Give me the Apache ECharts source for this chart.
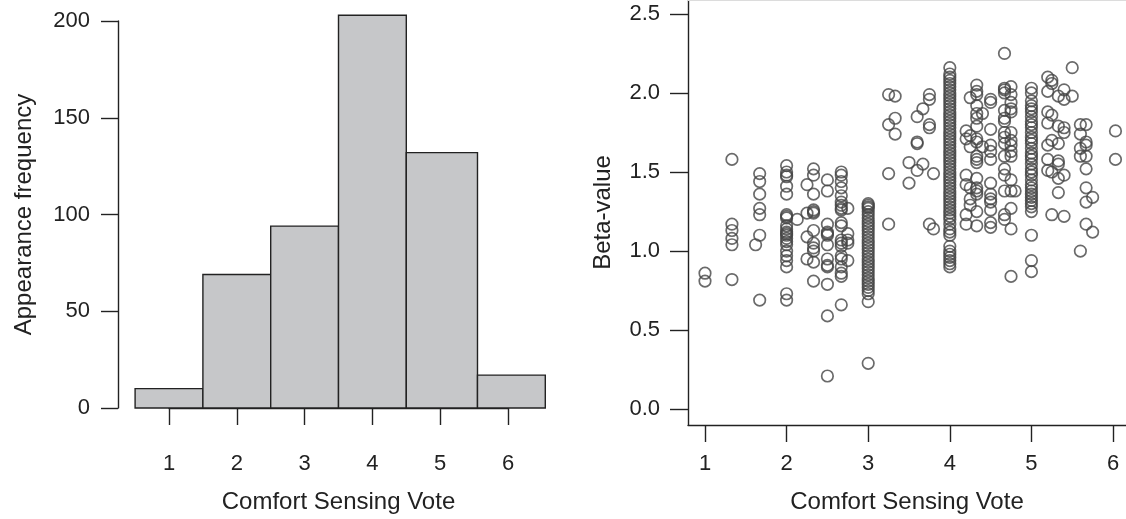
<!DOCTYPE html>
<html>
<head>
<meta charset="utf-8">
<title>Comfort Sensing Vote</title>
<script src="https://cdn.jsdelivr.net/npm/echarts@6/dist/echarts.min.js"></script>
<style>
  html, body { margin: 0; padding: 0; background: #ffffff; }
  #chart { width: 1126px; height: 519px; }
</style>
</head>
<body>
<div id="chart"></div>
<script>
// Histogram: bin edges on the vote scale and how many votes fall in each bin
const binEdges = [0.5, 1.5, 2.5, 3.5, 4.5, 5.55, 6.55];
const binCounts = [10, 69, 94, 203, 132, 17];

// Tick labels
const voteTicks = [1, 2, 3, 4, 5, 6];
const freqTicks = [0, 50, 100, 150, 200];
const betaTicks = [0.0, 0.5, 1.0, 1.5, 2.0, 2.5];

// Beta-value observations, grouped by (mean) comfort sensing vote
const betaColumns = [
  [1.00, [0.86, 0.81]],
  [1.33, [1.58, 1.17, 1.13, 1.08, 1.04, 0.82]],
  [1.62, [1.04]],
  [1.67, [1.49, 1.44, 1.36, 1.27, 1.23, 1.10, 0.69]],
  [2.00, [1.54, 1.50, 1.48, 1.47, 1.41, 1.36, 1.23, 1.22, 1.21, 1.16, 1.14, 1.12, 1.11, 1.10, 1.08, 1.06, 1.04, 1.00, 0.97, 0.94, 0.90, 0.73, 0.69]],
  [2.13, [1.20]],
  [2.25, [1.42, 1.24, 1.09, 0.95]],
  [2.33, [1.52, 1.48, 1.36, 1.26, 1.25, 1.24, 1.13, 1.05, 1.02, 1.00, 0.93, 0.81]],
  [2.50, [1.45, 1.38, 1.17, 1.12, 1.11, 1.10, 1.04, 0.95, 0.91, 0.90, 0.79, 0.59, 0.21]],
  [2.67, [1.50, 1.48, 1.44, 1.40, 1.35, 1.31, 1.29, 1.27, 1.26, 1.18, 1.16, 1.07, 1.05, 1.03, 0.97, 0.95, 0.90, 0.86, 0.84, 0.66]],
  [2.75, [1.27, 1.11, 1.07, 1.05, 0.94]],
  [3.00, [1.30, 1.29, 1.28, 1.27, 1.25, 1.23, 1.21, 1.19, 1.17, 1.15, 1.13, 1.11, 1.09, 1.07, 1.05, 1.03, 1.01, 0.99, 0.97, 0.95, 0.93, 0.91, 0.89, 0.87, 0.85, 0.83, 0.81, 0.79, 0.77, 0.75, 0.73, 0.68, 0.29]],
  [3.25, [1.99, 1.80, 1.49, 1.17]],
  [3.33, [1.98, 1.84, 1.74]],
  [3.50, [1.56, 1.43]],
  [3.60, [1.85, 1.69, 1.68, 1.51]],
  [3.67, [1.90, 1.55]],
  [3.75, [1.99, 1.96, 1.80, 1.78, 1.17]],
  [3.80, [1.49, 1.14]],
  [4.00, [2.16, 2.12, 2.10, 2.08, 2.06, 2.04, 2.02, 2.00, 1.98, 1.96, 1.94, 1.92, 1.90, 1.88, 1.86, 1.84, 1.82, 1.80, 1.78, 1.76, 1.74, 1.72, 1.70, 1.68, 1.66, 1.64, 1.62, 1.60, 1.58, 1.56, 1.54, 1.52, 1.50, 1.48, 1.46, 1.44, 1.42, 1.40, 1.38, 1.36, 1.34, 1.32, 1.30, 1.28, 1.26, 1.24, 1.22, 1.20, 1.17, 1.14, 1.12, 1.10, 1.03, 1.00, 0.98, 0.96, 0.94, 0.92, 0.90]],
  [4.20, [1.76, 1.71, 1.48, 1.42, 1.23, 1.17]],
  [4.25, [1.97, 1.73, 1.66, 1.40, 1.33, 1.29]],
  [4.33, [2.05, 2.01, 1.99, 1.92, 1.87, 1.84, 1.79, 1.71, 1.69, 1.60, 1.58, 1.56, 1.46, 1.40, 1.38, 1.36, 1.25, 1.16]],
  [4.40, [1.87, 1.66]],
  [4.50, [1.96, 1.94, 1.77, 1.67, 1.63, 1.58, 1.43, 1.36, 1.33, 1.31, 1.26, 1.18, 1.15]],
  [4.67, [2.25, 2.03, 2.02, 2.00, 1.89, 1.84, 1.82, 1.75, 1.72, 1.68, 1.60, 1.52, 1.48, 1.38, 1.23, 1.20]],
  [4.75, [2.04, 1.99, 1.94, 1.90, 1.88, 1.75, 1.70, 1.67, 1.63, 1.60, 1.45, 1.38, 1.27, 1.14, 0.84]],
  [4.80, [1.38]],
  [5.00, [2.03, 2.00, 1.95, 1.92, 1.90, 1.88, 1.85, 1.82, 1.80, 1.78, 1.75, 1.72, 1.70, 1.68, 1.65, 1.62, 1.60, 1.58, 1.55, 1.52, 1.50, 1.48, 1.45, 1.42, 1.40, 1.38, 1.36, 1.34, 1.32, 1.30, 1.28, 1.25, 1.10, 0.94, 0.87]],
  [5.20, [2.10, 2.01, 1.88, 1.81, 1.67, 1.58, 1.51]],
  [5.25, [2.08, 2.06, 1.86, 1.70, 1.50, 1.23]],
  [5.33, [1.98, 1.79, 1.68, 1.57, 1.55, 1.46, 1.37]],
  [5.40, [2.02, 1.96, 1.78, 1.75, 1.48, 1.22]],
  [5.50, [2.16, 1.98]],
  [5.60, [1.80, 1.74, 1.65, 1.60, 1.00]],
  [5.67, [1.80, 1.69, 1.67, 1.60, 1.52, 1.40, 1.31, 1.17]],
  [5.75, [1.34, 1.12]],
  [6.03, [1.76, 1.58]]
];

const FONT = "'Liberation Sans', Arial, Helvetica, sans-serif";
const INK = '#222222';

const histData = binCounts.map((c, i) => [binEdges[i], binEdges[i + 1], c]);
const scatterData = [];
betaColumns.forEach(([x, ys]) => ys.forEach(y => scatterData.push([x, y])));

const tickLabel = { fontFamily: FONT, fontSize: 22, color: INK };
const axisTitle = { fontFamily: FONT, fontSize: 24, color: INK };

const chart = echarts.init(document.getElementById('chart'), null, { renderer: 'canvas' });

chart.setOption({
  animation: false,
  backgroundColor: '#ffffff',
  grid: [
    { left: 169, right: 618, top: 21, bottom: 107 },
    { left: 688, right: 0, top: 0, bottom: 90 }
  ],
  xAxis: [
    {
      gridIndex: 0, type: 'value', min: 1, max: 6, interval: 1, offset: 15,
      name: 'Comfort Sensing Vote', nameLocation: 'middle', nameGap: 67, nameTextStyle: axisTitle,
      axisLine: { show: true, lineStyle: { color: INK, width: 1.4 } },
      axisTick: { show: true, length: 17, lineStyle: { color: INK, width: 1.4 } },
      axisLabel: Object.assign({ margin: 30 }, tickLabel),
      splitLine: { show: false }
    },
    {
      gridIndex: 1, type: 'value', min: 0.7917, max: 6.159,
      name: 'Comfort Sensing Vote', nameLocation: 'middle', nameGap: 65, nameTextStyle: axisTitle,
      axisLine: { show: true, onZero: false, lineStyle: { color: INK, width: 1.4 } },
      axisTick: { show: true, length: 17, customValues: voteTicks, lineStyle: { color: INK, width: 1.4 } },
      axisLabel: Object.assign({ margin: 28, customValues: voteTicks }, tickLabel),
      splitLine: { show: false }
    },
    {
      gridIndex: 1, type: 'value', position: 'top', min: 0.7917, max: 6.159,
      axisLine: { show: true, onZero: false, lineStyle: { color: '#dcdcdc', width: 1 } },
      axisTick: { show: false }, axisLabel: { show: false }, splitLine: { show: false }
    }
  ],
  yAxis: [
    {
      gridIndex: 0, type: 'value', min: 0, max: 200, interval: 50, offset: 51,
      name: 'Appearance frequency', nameLocation: 'middle', nameGap: 82, nameTextStyle: axisTitle,
      axisLine: { show: true, lineStyle: { color: INK, width: 1.4 } },
      axisTick: { show: true, length: 17, lineStyle: { color: INK, width: 1.4 } },
      axisLabel: Object.assign({ margin: 28, customValues: freqTicks }, tickLabel),
      splitLine: { show: false }
    },
    {
      gridIndex: 1, type: 'value', min: -0.1, max: 2.588,
      name: 'Beta-value', nameLocation: 'middle', nameGap: 73, nameTextStyle: axisTitle,
      axisLine: { show: true, onZero: false, lineStyle: { color: INK, width: 1.4 } },
      axisTick: { show: true, length: 18, customValues: betaTicks, lineStyle: { color: INK, width: 1.4 } },
      axisLabel: Object.assign({ margin: 28, customValues: betaTicks, formatter: v => Number(v).toFixed(1) }, tickLabel),
      splitLine: { show: false }
    }
  ],
  series: [
    {
      type: 'custom',
      xAxisIndex: 0, yAxisIndex: 0,
      clip: false,
      data: histData,
      encode: { x: [0, 1], y: 2 },
      renderItem: (params, api) => {
        const topLeft = api.coord([api.value(0), api.value(2)]);
        const bottomRight = api.coord([api.value(1), 0]);
        return {
          type: 'rect',
          shape: {
            x: topLeft[0], y: topLeft[1],
            width: bottomRight[0] - topLeft[0],
            height: bottomRight[1] - topLeft[1]
          },
          style: { fill: '#c6c7c9', stroke: INK, lineWidth: 1.4 }
        };
      }
    },
    {
      type: 'scatter',
      xAxisIndex: 1, yAxisIndex: 1,
      data: scatterData,
      symbol: 'circle',
      symbolSize: 11.5,
      itemStyle: { color: 'rgba(0,0,0,0)', borderColor: '#454545', borderWidth: 1.7 },
      emphasis: { disabled: true }
    }
  ]
});
</script>
</body>
</html>
